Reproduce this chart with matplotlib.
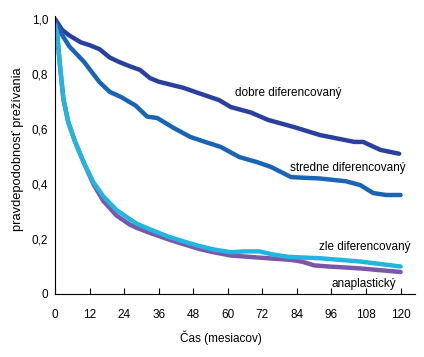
import numpy as np
import matplotlib
matplotlib.use("Agg")
import matplotlib.pyplot as plt

plt.rcParams['font.family'] = ['Liberation Sans', 'DejaVu Sans']

# survival curves (months, probability)
dobre_t = [0, 2.5, 5, 9, 12, 15.5, 19, 22, 26, 29.5, 33, 36, 44.5, 50, 57, 61, 68, 74, 83, 92, 104, 107, 113, 119.5]
dobre_p = [1.0, 0.96, 0.94, 0.915, 0.905, 0.89, 0.86, 0.845, 0.828, 0.815, 0.785, 0.772, 0.75, 0.73, 0.705, 0.68,
           0.66, 0.633, 0.607, 0.578, 0.553, 0.553, 0.524, 0.51]

stredne_t = [0, 2, 5, 10, 15.5, 19, 23, 28, 32, 35.5, 41, 47, 53, 57.5, 64, 70, 75, 82, 92, 101, 106, 110.5, 115, 120]
stredne_p = [0.99, 0.95, 0.9, 0.845, 0.77, 0.735, 0.716, 0.685, 0.645, 0.64, 0.605, 0.571, 0.55, 0.535, 0.498, 0.48,
             0.462, 0.425, 0.42, 0.41, 0.396, 0.367, 0.36, 0.36]

zle_t = [0, 0.8, 1.7, 2.9, 4.6, 7, 9.9, 13.3, 16.8, 21.4, 26, 28.5, 33, 39, 45, 50, 55, 61, 66, 71, 75, 81, 92, 106, 120]
zle_p = [0.98, 0.94, 0.833, 0.71, 0.625, 0.553, 0.48, 0.407, 0.355, 0.305, 0.272, 0.255, 0.235, 0.21, 0.19, 0.175,
         0.162, 0.152, 0.155, 0.155, 0.145, 0.135, 0.13, 0.118, 0.1]

ana_t = [0, 0.8, 1.7, 2.9, 4.6, 7, 9.9, 13.3, 16.8, 21.4, 26, 28.5, 33, 39, 45, 50, 55, 61, 70, 78, 82, 86, 90, 95, 106, 120]
ana_p = [0.98, 0.94, 0.833, 0.71, 0.625, 0.553, 0.48, 0.4, 0.338, 0.285, 0.252, 0.24, 0.222, 0.2, 0.18, 0.164,
         0.152, 0.14, 0.133, 0.127, 0.124, 0.117, 0.104, 0.1, 0.093, 0.08]

xticks = [0, 12, 24, 36, 48, 60, 72, 84, 96, 108, 120]
yticks = [0, 0.2, 0.4, 0.6, 0.8, 1.0]
ylabels = ['0', '0,2', '0,4', '0,6', '0,8', '1,0']

fig = plt.figure(figsize=[4.24, 3.57], dpi=100)
ax = fig.add_axes([55/424, 63/357, 360/424, 278/357])

ax.plot(dobre_t, dobre_p, color='#2a3f9e', lw=3.2, solid_capstyle='round', solid_joinstyle='round')
ax.plot(stredne_t, stredne_p, color='#1a64b6', lw=3.2, solid_capstyle='round', solid_joinstyle='round')
ax.plot(ana_t, ana_p, color='#7a58a8', lw=3.2, solid_capstyle='round', solid_joinstyle='round')
ax.plot(zle_t, zle_p, color='#22b5e0', lw=3.2, solid_capstyle='round', solid_joinstyle='round')

ax.text(62.5, 0.73, 'dobre diferencovaný', fontsize=8.5, va='center')
ax.text(81.5, 0.458, 'stredne diferencovaný', fontsize=8.5, va='center')
ax.text(91.5, 0.17, 'zle diferencovaný', fontsize=8.5, va='center')
ax.text(96, 0.036, 'anaplastický', fontsize=8.5, va='center')

ax.set_xlim(0, 125)
ax.set_ylim(0, 278/275)
ax.set_xticks(xticks)
ax.set_yticks(yticks)
ax.set_yticklabels(ylabels)
ax.tick_params(axis='x', direction='in', length=4, width=0.8, labelsize=8.5, pad=11)
ax.tick_params(axis='y', length=0, labelsize=8.5, pad=5)
for s in ['top', 'right']:
    ax.spines[s].set_visible(False)
ax.spines['left'].set_linewidth(0.8)
ax.spines['bottom'].set_linewidth(0.8)

ax.set_ylabel('pravdepodobnosť prežívania', fontsize=9.3)
ax.yaxis.set_label_coords(-0.086, 0.52)
ax.set_xlabel('Čas (mesiacov)', fontsize=8.5)
ax.xaxis.set_label_coords(0.46, -0.133)

fig.savefig('out.png', dpi=100)
